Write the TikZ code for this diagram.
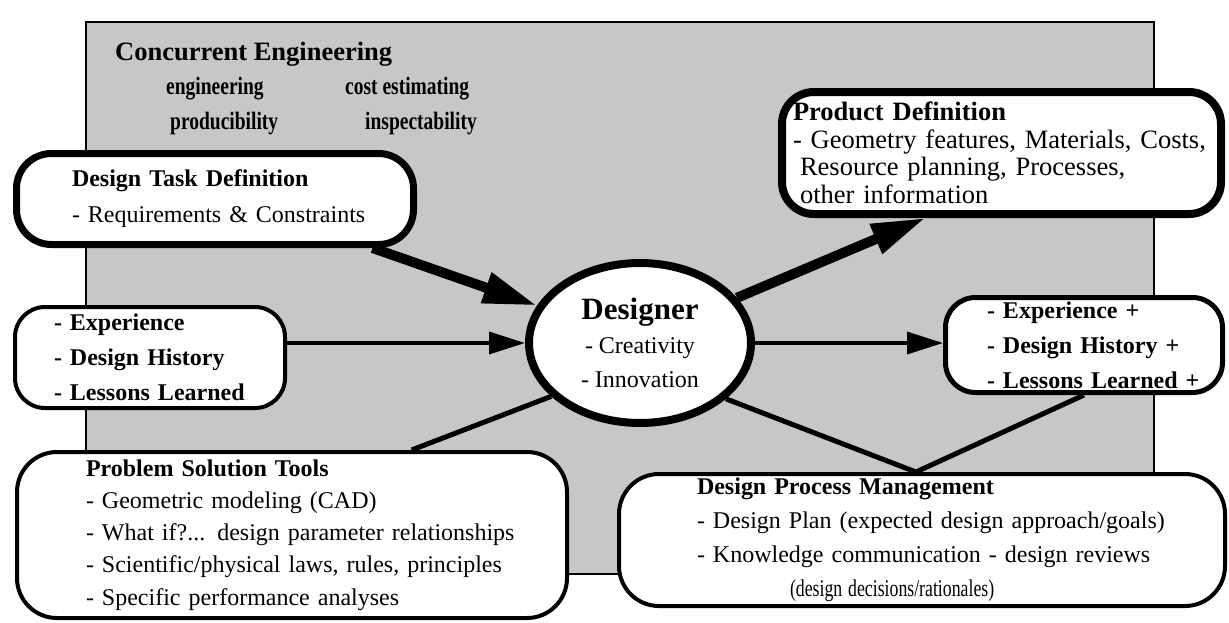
\documentclass[tikz,border=0pt]{standalone}
\usepackage{fontspec}
\setmainfont{Liberation Serif}
\usepackage{graphicx}
\usetikzlibrary{shapes.geometric,arrows.meta,calc}
\definecolor{stip}{gray}{0.78}
\newcommand\cword[1]{\scalebox{0.78}[1]{#1}}
\newcommand\oneline[1]{\mbox{#1}}
\tikzset{
  every node/.style={inner sep=0pt},
  rbox/.style={draw, fill=white, align=left},
  txt/.style={anchor=base west, inner sep=0pt},
  cetext/.style={txt, font=\fontsize{25}{28}\selectfont\bfseries},
  heavyarrow/.style={line width=10pt, -{Triangle[length=54pt,width=30pt]}},
  lightarrow/.style={line width=3.5pt, -{Triangle[length=36pt,width=22pt]}},
  link/.style={line width=5pt},
}
\begin{document}
\begin{tikzpicture}[x=1pt,y=-1pt]
\useasboundingbox (0,0) rectangle (1229,622);
% concurrent engineering area
\draw[line width=2pt, fill=stip] (86,22) rectangle (1154,574);
\node[txt, font=\fontsize{26.5}{30}\selectfont\bfseries] (cetitle) at (115,60) {Concurrent Engineering};
\node[cetext] (ceeng) at (166,94) {\cword{engineering}};
\node[cetext] (cecost) at (345,94) {\cword{cost estimating}};
\node[cetext] (ceprod) at (170,129) {\cword{producibility}};
\node[cetext] (ceinsp) at (365,129) {\cword{inspectability}};
% boxes
\node[rbox, line width=7pt, rounded corners=35pt, minimum width=397pt, minimum height=91pt,
      text width=286pt, font=\fontsize{24}{36}\selectfont] (dtd) at (215,199)
  {\oneline{\textbf{Design Task Definition}}\\\oneline{- Requirements \& Constraints}};
\node[rbox, line width=4pt, rounded corners=30pt, minimum width=270pt, minimum height=101pt,
      text width=192pt, font=\fontsize{24}{35}\selectfont\bfseries] (exp) at (150,357.5)
  {\oneline{- Experience}\\\oneline{- Design History}\\\oneline{- Lessons Learned}};
\node[rbox, line width=8pt, rounded corners=32pt, minimum width=439pt, minimum height=122pt,
      text width=417pt, font=\fontsize{26.5}{27.5}\selectfont] (pd) at (1001.5,153)
  {\oneline{\textbf{Product Definition}}\\\oneline{- Geometry features, Materials, Costs,}\\\oneline{\hspace*{7pt}Resource planning, Processes,}\\\oneline{\hspace*{7pt}other information}};
\node[rbox, line width=5pt, rounded corners=30pt, minimum width=277pt, minimum height=95pt,
      text width=194pt, font=\fontsize{24}{35}\selectfont\bfseries] (expp) at (1084,345)
  {\oneline{- Experience +}\\\oneline{- Design History +}\\\oneline{- Lessons Learned +}};
\node[rbox, line width=4pt, rounded corners=40pt, minimum width=550pt, minimum height=166pt,
      text width=412pt, font=\fontsize{24}{32.25}\selectfont] (pst) at (292,535)
  {\oneline{\textbf{Problem Solution Tools}}\\\oneline{- Geometric modeling (CAD)}\\\oneline{- What if?... design parameter relationships}\\\oneline{- Scientific/physical laws, rules, principles}\\\oneline{- Specific performance analyses}};
\node[rbox, line width=4pt, rounded corners=40pt, minimum width=606pt, minimum height=132pt,
      text width=450pt, font=\fontsize{24}{34}\selectfont] (dpm) at (922,540)
  {\oneline{\textbf{Design Process Management}}\\\oneline{- Design Plan (expected design approach/goals)}\\\oneline{- Knowledge communication - design reviews}\\\oneline{\hspace*{93pt}\scalebox{0.74}[1]{(design decisions/rationales)}}};
\node[draw, fill=white, ellipse, line width=8pt, minimum width=222pt, minimum height=160pt,
      align=center, font=\fontsize{24}{34}\selectfont] (designer) at (640,343)
  {{\fontsize{31}{34}\selectfont\bfseries Designer}\\- Creativity\\- Innovation};
\coordinate (apex) at ($(dpm.north west)!0.49!(dpm.north east)$);
% connectors
\draw[heavyarrow] ($(dtd.south west)!0.89!(dtd.south east)$) -- (designer.160);
\draw[lightarrow] (exp.east |- designer.west) -- (designer.west);
\draw[heavyarrow] (designer.25) -- ($(pd.south west)!0.33!(pd.south east)$);
\draw[lightarrow] (designer.east) -- (expp.west |- designer.east);
\draw[link] (designer.211) -- ($(pst.north west)!0.716!(pst.north east)$);
\draw[link] (designer.327) -- (apex);
\draw[link] (expp.south) -- (apex);
\end{tikzpicture}
\end{document}
